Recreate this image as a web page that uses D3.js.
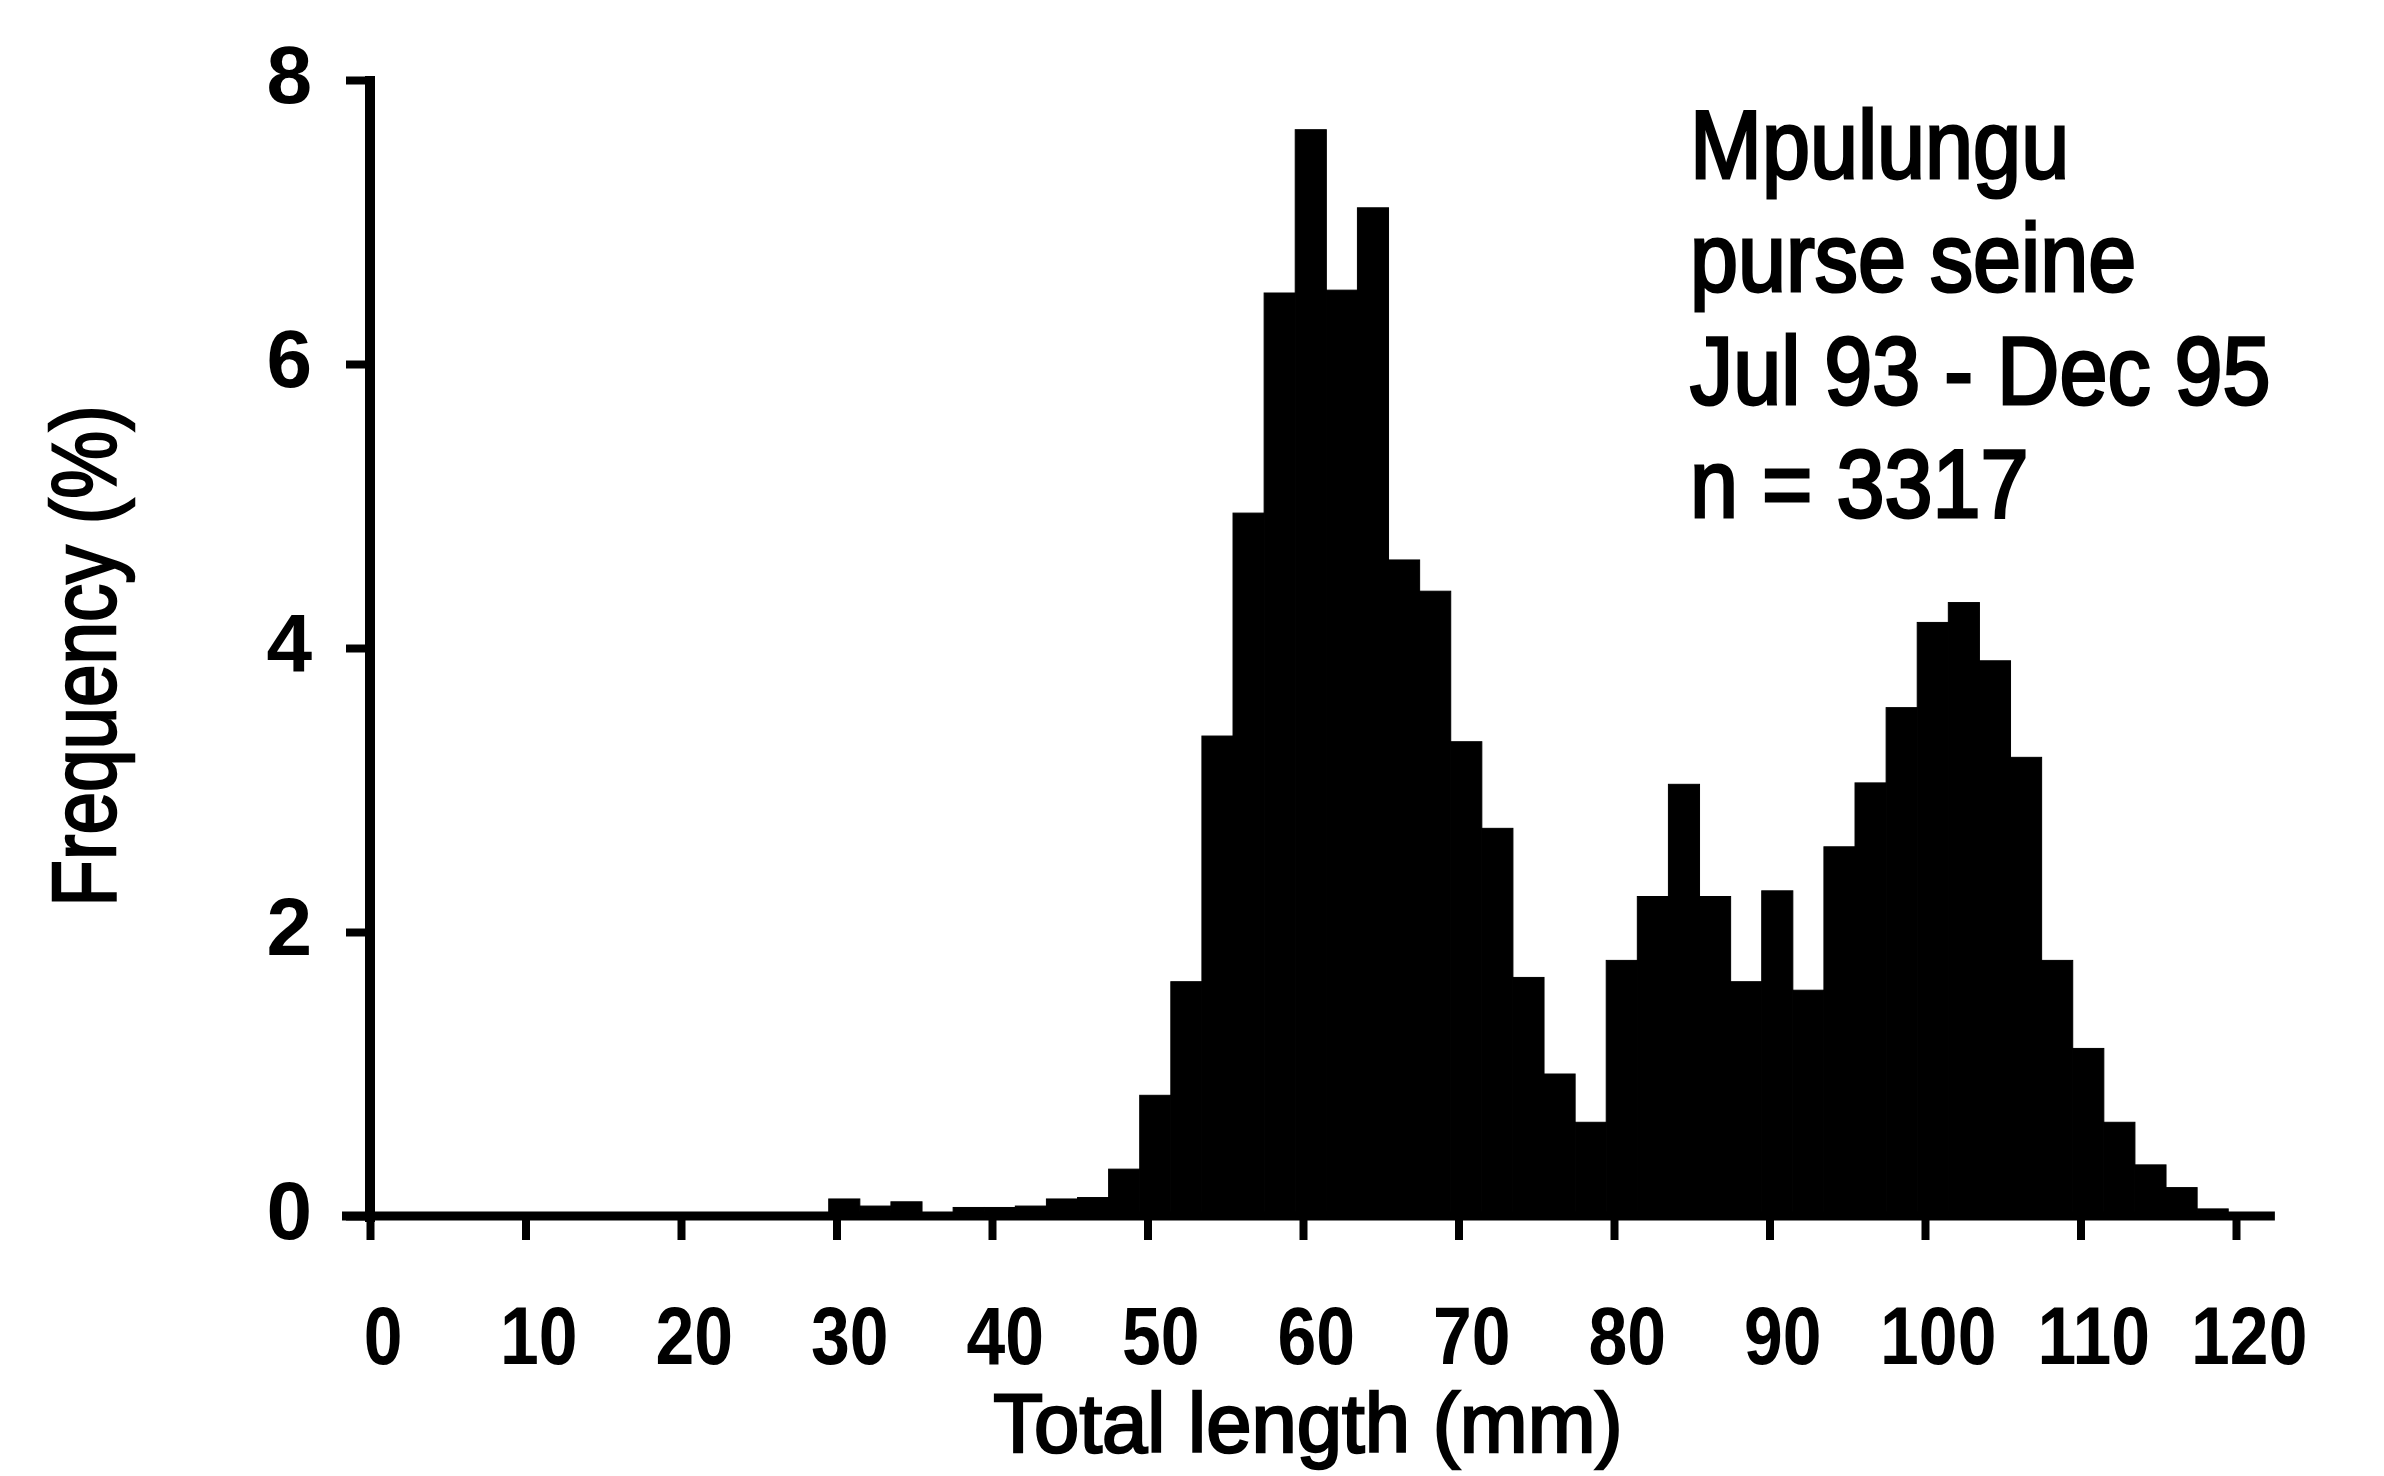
<!DOCTYPE html>
<html>
<head>
<meta charset="utf-8">
<script src="https://cdn.jsdelivr.net/npm/d3@7"></script>
<style>
  html, body { margin: 0; padding: 0; background: #fff; }
  svg { display: block; }
  text { font-family: "Liberation Sans", Arial, Helvetica, sans-serif; fill: #000; }
</style>
</head>
<body>
<svg id="chart" width="2384" height="1476"></svg>
<script>
// ---- data ----
const binStarts = [30, 32, 34, 36, 38, 40, 42, 44, 46, 48,
                   50, 52, 54, 56, 58, 60, 62, 64, 66, 68,
                   70, 72, 74, 76, 78, 80, 82, 84, 86, 88,
                   90, 92, 94, 96, 98, 100, 102, 104, 106, 108,
                   110, 112, 114, 116, 118];
const frequency = [0.12, 0.07, 0.10, 0.00, 0.06, 0.06, 0.07, 0.12, 0.13, 0.33,
                   0.85, 1.65, 3.38, 4.95, 6.50, 7.65, 6.52, 7.10, 4.62, 4.40,
                   3.34, 2.73, 1.68, 1.00, 0.66, 1.80, 2.25, 3.04, 2.25, 1.65,
                   2.29, 1.59, 2.60, 3.05, 3.58, 4.18, 4.32, 3.91, 3.23, 1.80,
                   1.18, 0.66, 0.36, 0.20, 0.05];
const xTickValues = [0, 10, 20, 30, 40, 50, 60, 70, 80, 90, 100, 110, 120];
const yTickValues = [0, 2, 4, 6, 8];
const annotationLines = ["Mpulungu", "purse seine", "Jul 93 - Dec 95", "n = 3317"];
const xTitle = "Total length (mm)";
const yTitle = "Frequency (%)";

// ---- layout ----
const svg = d3.select("#chart");
svg.append("rect").attr("width", 2384).attr("height", 1476).attr("fill", "#fff");

const x = d3.scaleLinear().domain([0, 120]).range([370, 2236]);
const y = d3.scaleLinear().domain([0, 8]).range([1216, 80]);

// bars (class b spans b-0.5 .. b+1.5)
const bars = binStarts.map((b, i) => ({ b, v: frequency[i] }));
svg.append("g")
  .selectAll("rect")
  .data(bars)
  .join("rect")
  .attr("x", d => x(d.b - 0.5))
  .attr("width", d => x(d.b + 1.5) - x(d.b - 0.5))
  .attr("y", d => y(d.v))
  .attr("height", d => y(0) - y(d.v))
  .attr("fill", "#000")
  .attr("stroke", "#000")
  .attr("stroke-width", 1);

// y axis
const yAxis = d3.axisLeft(y).tickValues(yTickValues).tickSize(24).tickPadding(34).tickSizeOuter(0);
const gy = svg.append("g").attr("transform", `translate(${x(0)},0)`).call(yAxis);
gy.select(".domain").remove();
gy.selectAll(".tick line").attr("stroke", "#000").attr("stroke-width", 8);
gy.selectAll(".tick text")
  .attr("font-size", 82).attr("font-weight", "bold")
  .attr("font-family", "'Liberation Sans', Arial, sans-serif")
  .attr("dy", "0.28em");
svg.append("line")
  .attr("x1", x(0)).attr("x2", x(0))
  .attr("y1", y(8) - 4).attr("y2", y(0) + 6)
  .attr("stroke", "#000").attr("stroke-width", 10);

// x axis
const xAxis = d3.axisBottom(x).tickValues(xTickValues).tickSize(24).tickPadding(66).tickSizeOuter(0);
const gx = svg.append("g").attr("transform", `translate(0,${y(0)})`).call(xAxis);
gx.select(".domain").remove();
gx.selectAll(".tick line").attr("stroke", "#000").attr("stroke-width", 8);
gx.selectAll(".tick text")
  .attr("font-size", 82).attr("font-weight", "bold")
  .attr("font-family", "'Liberation Sans', Arial, sans-serif")
  .attr("transform", "scale(0.85,1)")
  .attr("dx", 15);
svg.append("line")
  .attr("x1", x(-1.8)).attr("x2", x(122.5))
  .attr("y1", y(0)).attr("y2", y(0))
  .attr("stroke", "#000").attr("stroke-width", 9);

// axis titles
svg.append("text")
  .attr("transform", `translate(1308,1452) scale(0.97,1)`)
  .attr("text-anchor", "middle")
  .attr("font-size", 84)
  .attr("stroke", "#000").attr("stroke-width", 2.5)
  .text(xTitle);

svg.append("text")
  .attr("transform", `translate(115,656) rotate(-90) scale(0.85,1)`)
  .attr("text-anchor", "middle")
  .attr("font-size", 90)
  .attr("stroke", "#000").attr("stroke-width", 2.5)
  .text(yTitle);

// annotation
const ann = svg.append("g").attr("transform", "translate(1690,0) scale(0.89,1)");
ann.selectAll("text")
  .data(annotationLines)
  .join("text")
  .attr("x", 0)
  .attr("y", (d, i) => 178 + i * 113)
  .attr("font-size", 97)
  .attr("stroke", "#000").attr("stroke-width", 3)
  .text(d => d);
</script>
</body>
</html>
